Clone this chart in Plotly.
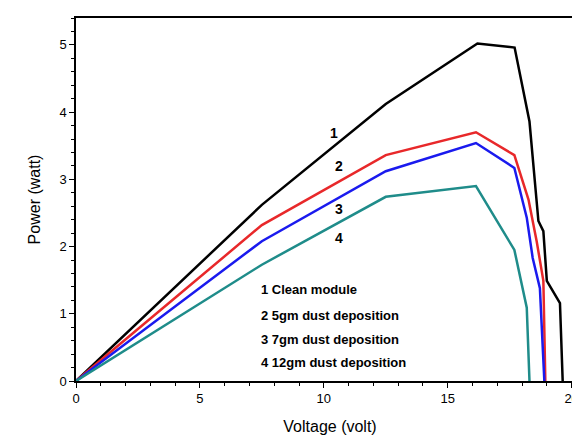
import plotly.graph_objects as go

v1 = [0, 7.5, 12.5, 16.2, 17.7, 18.3, 18.66, 18.86, 19.0, 19.53, 19.64]
p1 = [0, 2.62, 4.12, 5.02, 4.96, 3.86, 2.38, 2.23, 1.49, 1.16, 0]
v2 = [0, 7.5, 12.5, 16.14, 17.69, 18.26, 18.59, 18.86, 18.94]
p2 = [0, 2.32, 3.36, 3.70, 3.36, 2.70, 2.08, 1.49, 0]
v3 = [0, 7.5, 12.5, 16.14, 17.69, 18.19, 18.43, 18.72, 18.9]
p3 = [0, 2.08, 3.12, 3.54, 3.17, 2.43, 1.83, 1.38, 0]
v4 = [0, 7.5, 12.5, 16.14, 17.69, 18.19, 18.3]
p4 = [0, 1.73, 2.74, 2.90, 1.95, 1.09, 0]
labels = ["1 Clean module", "2 5gm dust deposition", "3 7gm dust deposition", "4 12gm dust deposition"]

fig = go.Figure()
for v, p, c in [(v1, p1, "black"), (v2, p2, "#e8282a"), (v3, p3, "#1a1aee"), (v4, p4, "#1f8c8a")]:
    fig.add_trace(go.Scatter(x=v, y=p, mode="lines", line=dict(color=c, width=2.5), showlegend=False))

for t, x, y in [("1", 10.4, 3.69), ("2", 10.6, 3.20), ("3", 10.6, 2.56), ("4", 10.6, 2.13)]:
    fig.add_annotation(x=x, y=y, text="<b>%s</b>" % t, showarrow=False, font=dict(size=14, color="black", family="Arial"))
ys = [1.36, 0.98, 0.62, 0.27]
for t, y in zip(labels, ys):
    fig.add_annotation(x=7.4, y=y, text="<b>%s</b>" % t, showarrow=False, xanchor="left",
                       font=dict(size=13, color="black", family="Arial"))

ax = dict(showline=True, linecolor="black", linewidth=1.5, mirror=True, ticks="outside",
          tickcolor="black", showgrid=False, zeroline=False, tickfont=dict(size=13, color="black"),
          automargin=False, minor=dict(ticks="outside", tickcolor="black", ticklen=3))
fig.update_layout(width=580, height=436, plot_bgcolor="white", paper_bgcolor="white",
                  margin=dict(l=68, r=4, t=10, b=63), font=dict(family="Arial", color="black"),
                  xaxis=dict(ax, range=[0, 20.5], dtick=5, title=dict(text="Voltage (volt)", font=dict(size=16, color="black"))),
                  yaxis=dict(ax, range=[0, 5.4], dtick=1, title=dict(text="Power (watt)", font=dict(size=16, color="black"))))
fig.write_html("out.html")
